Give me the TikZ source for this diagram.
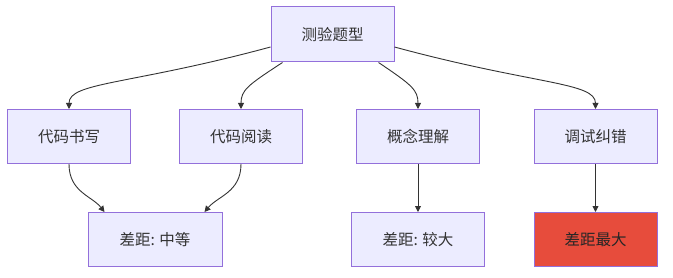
\documentclass[tikz,border=0pt]{standalone}
\usepackage{fontspec}
\setmainfont{Noto Sans CJK SC}
\usetikzlibrary{arrows.meta}
\definecolor{boxfill}{HTML}{ECECFF}
\definecolor{boxline}{HTML}{9370DB}
\definecolor{txt}{HTML}{333333}
\definecolor{hot}{HTML}{E74C3C}
\tikzset{
  box/.style={draw=boxline, fill=boxfill, line width=1pt, minimum width=123pt, minimum height=54pt, inner sep=0pt, text=txt, font=\fontsize{15.5}{18}\selectfont},
  hotbox/.style={box, fill=hot, text=black!85},
  link/.style={draw=txt, line width=0.9pt, -{Triangle[length=6pt,width=6pt]}},
}
\begin{document}
\begin{tikzpicture}[x=1pt,y=-1pt]
\useasboundingbox (0,0) rectangle (673,278);
\node[box, minimum height=55pt] (t) at (332.5,34.5) {测验题型};
\node[box] (a) at (69,136.5) {代码书写};
\node[box] (b) at (241,136.5) {代码阅读};
\node[box] (c) at (418,136.5) {概念理解};
\node[box] (d) at (595.5,136.5) {调试纠错};
\node[box, minimum width=134pt] (e) at (155,239.5) {差距: 中等};
\node[box, minimum width=133pt] (f) at (418,239.5) {差距: 较大};
\node[hotbox] (g) at (595.5,239.5) {差距最大};
\draw[link] ([yshift=-12.5pt]t.west) .. controls (130,85) and (69,82) .. (a.north);
\draw[link] ([xshift=12pt]t.south west) .. controls (248,85) and (241,90) .. (b.north);
\draw[link] ([xshift=-16pt]t.south east) .. controls (412,85) and (418,90) .. (c.north);
\draw[link] ([yshift=-12.5pt]t.east) .. controls (535,85) and (595.5,82) .. (d.north);
\draw[link] (a.south) .. controls (69,192) and (92,196) .. ([xshift=17pt]e.north west);
\draw[link] (b.south) .. controls (241,192) and (218,196) .. ([xshift=-18pt]e.north east);
\draw[link] (c.south) -- (f.north);
\draw[link] (d.south) -- (g.north);
\end{tikzpicture}
\end{document}
